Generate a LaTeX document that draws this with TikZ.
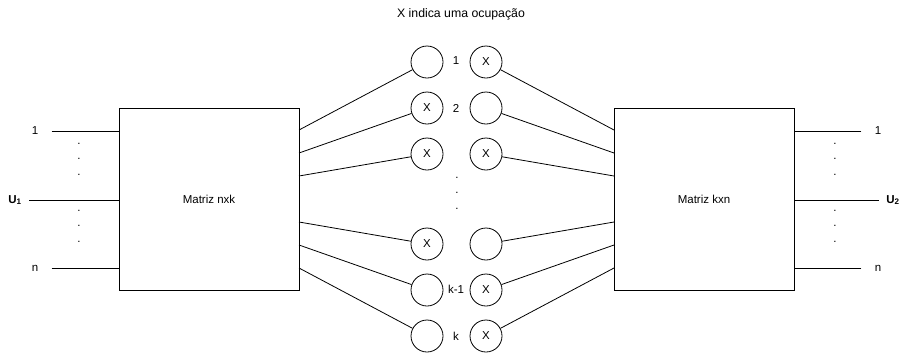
\documentclass[tikz,border=0pt]{standalone}
\usepackage{fontspec}
\setmainfont{Liberation Sans}
\usepackage{tikz}
\usetikzlibrary{positioning}

\begin{document}
\begin{tikzpicture}[
  x=1pt, y=-1pt,
  every node/.style={font=\fontsize{11.5}{15.5}\selectfont},
  matbox/.style={draw, line width=0.9pt, minimum width=180pt, minimum height=182pt, inner sep=0pt},
  slot/.style={draw, circle, line width=0.8pt, minimum size=32pt, inner sep=0pt},
  vdots/.style={align=center, inner sep=0pt},
  wire/.style={line width=0.8pt}
]
\useasboundingbox (0,0) rectangle (909,354);

\node[font=\fontsize{12.3}{15.5}\selectfont] (title) at (461,14) {X indica uma ocupação};

% matrices
\node[matbox] (nxk) at (209,199) {Matriz nxk};
\node[matbox] (kxn) at (704,199) {Matriz kxn};

% inputs
\node (in1) at (35,131) {1};
\node (inn) at (35,268) {n};
\node (u1) at (15,200) {\textbf{U$_{\mathbf{1}}$}};
\node[vdots] (dotsA) at (79,159) {.\\.\\.};
\node[vdots] (dotsB) at (79,226) {.\\.\\.};
\draw[wire] ([xshift=10pt]in1.east) -- (in1.east -| nxk.west);
\draw[wire] ([xshift=10pt]inn.east) -- (inn.east -| nxk.west);
\draw[wire] ([xshift=4pt]u1.east) -- (u1.east -| nxk.west);

% outputs
\node (out1) at (878,131) {1};
\node (outn) at (878,268) {n};
\node (u2) at (893,200) {\textbf{U$_{\mathbf{2}}$}};
\node[vdots] (dotsC) at (835,159) {.\\.\\.};
\node[vdots] (dotsD) at (835,226) {.\\.\\.};
\draw[wire] ([xshift=-10pt]out1.west) -- (out1.west -| kxn.east);
\draw[wire] ([xshift=-10pt]outn.west) -- (outn.west -| kxn.east);
\draw[wire] ([xshift=-4pt]u2.west) -- (u2.west -| kxn.east);

% occupation slots
\node[slot] (l1) at (427,62) {};
\node[slot] (l2) at (427,108) {X};
\node[slot] (l3) at (427,154) {X};
\node[slot] (l4) at (427,244) {X};
\node[slot] (l5) at (427,290) {};
\node[slot] (l6) at (427,336) {};
\node[slot] (r1) at (486,62) {X};
\node[slot] (r2) at (486,108) {};
\node[slot] (r3) at (486,154) {X};
\node[slot] (r4) at (486,244) {};
\node[slot] (r5) at (486,290) {X};
\node[slot] (r6) at (486,336) {X};

\node (k1) at (456,61) {1};
\node (k2) at (456,108) {2};
\node (kk1) at (456,289) {k-1};
\node (kk) at (456,336) {k};
\node[vdots] (dotsK) at (457,193) {.\\.\\.};

% links
\coordinate (a1) at (299,130);
\coordinate (a2) at (299,153);
\coordinate (a3) at (299,176);
\coordinate (a4) at (299,222);
\coordinate (a5) at (299,245);
\coordinate (a6) at (299,268);
\coordinate (b1) at (614,130);
\coordinate (b2) at (614,153);
\coordinate (b3) at (614,176);
\coordinate (b4) at (614,222);
\coordinate (b5) at (614,245);
\coordinate (b6) at (614,268);
\draw[wire] (a1) -- (l1);
\draw[wire] (a2) -- (l2);
\draw[wire] (a3) -- (l3);
\draw[wire] (a4) -- (l4);
\draw[wire] (a5) -- (l5);
\draw[wire] (a6) -- (l6);
\draw[wire] (r1) -- (b1);
\draw[wire] (r2) -- (b2);
\draw[wire] (r3) -- (b3);
\draw[wire] (r4) -- (b4);
\draw[wire] (r5) -- (b5);
\draw[wire] (r6) -- (b6);
\end{tikzpicture}
\end{document}
